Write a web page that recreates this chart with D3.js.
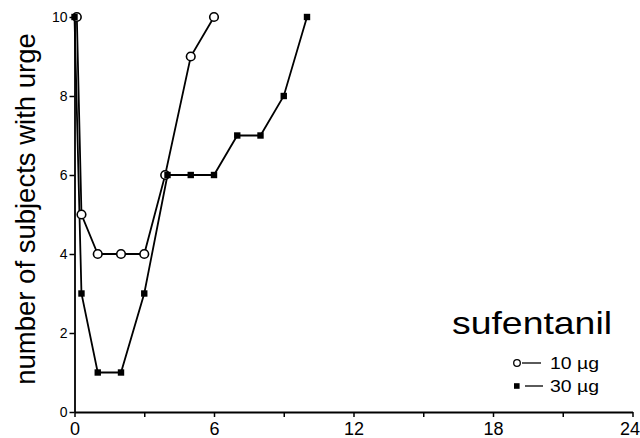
<!DOCTYPE html>
<html>
<head>
<meta charset="utf-8">
<script src="https://cdn.jsdelivr.net/npm/d3@7"></script>
<style>
  html, body { margin: 0; padding: 0; background: #fff; }
  svg { display: block; }
  text { font-family: "Liberation Sans", Arial, sans-serif; fill: #000; }
</style>
</head>
<body>
<svg id="chart" width="640" height="438"></svg>
<script>
// ---- data ----
const time10 = [0.1, 0.3, 1, 2, 3, 3.9, 5, 6];
const urge10 = [10, 5, 4, 4, 4, 6, 9, 10];
const time30 = [0, 0.3, 1, 2, 3, 4, 5, 6, 7, 8, 9, 10];
const urge30 = [10, 3, 1, 1, 3, 6, 6, 6, 7, 7, 8, 10];
const xMajorTicks = [0, 6, 12, 18, 24];
const xMinorTicks = [3, 9, 15, 21];
const yTicks = [0, 2, 4, 6, 8, 10];
const seriesNames = ["10 µg", "30 µg"];
const yLabel = "number of subjects with urge";
const legendTitle = "sufentanil";

const svg = d3.select("#chart");
const x = d3.scaleLinear().domain([0, 24]).range([74.5, 632.5]);
const y = d3.scaleLinear().domain([0, 10]).range([412, 17]);

// axes
const xAxis = svg.append("g").attr("transform", "translate(0,412)")
  .call(d3.axisBottom(x).tickValues(xMajorTicks.concat(xMinorTicks))
    .tickFormat(d => xMajorTicks.includes(d) ? d : "")
    .tickSize(5).tickSizeOuter(0).tickPadding(5));
xAxis.select(".domain").attr("stroke-width", 1.8);
xAxis.selectAll(".tick line").attr("stroke-width", 1.5);
xAxis.selectAll("text").attr("font-size", 18).attr("font-family", "Liberation Sans, Arial, sans-serif").attr("fill", "#000")
  .attr("dx", d => d === 24 ? -3 : 0);

const yAxis = svg.append("g").attr("transform", "translate(74.5,0)")
  .call(d3.axisLeft(y).tickValues(yTicks).tickSize(5).tickSizeOuter(0).tickPadding(2));
yAxis.select(".domain").attr("stroke-width", 1.8);
yAxis.selectAll(".tick line").attr("stroke-width", 1.5);
yAxis.selectAll("text").attr("font-size", 14).attr("font-family", "Liberation Sans, Arial, sans-serif").attr("fill", "#000");

// y label
svg.append("text")
  .attr("transform", "translate(35,209) rotate(-90)")
  .attr("text-anchor", "middle")
  .attr("font-size", 27.5)
  .text(yLabel);

const line = d3.line().x(d => x(d[0])).y(d => y(d[1]));
const d10 = time10.map((t, i) => [t, urge10[i]]);
const d30 = time30.map((t, i) => [t, urge30[i]]);

svg.append("path").datum(d30).attr("d", line)
  .attr("fill", "none").attr("stroke", "#000").attr("stroke-width", 1.8);
svg.append("path").datum(d10).attr("d", line)
  .attr("fill", "none").attr("stroke", "#000").attr("stroke-width", 1.8);

svg.append("g").selectAll("circle").data(d10).join("circle")
  .attr("cx", d => x(d[0])).attr("cy", d => y(d[1])).attr("r", 4.3)
  .attr("fill", "#fff").attr("stroke", "#000").attr("stroke-width", 1.6);

svg.append("g").selectAll("rect").data(d30).join("rect")
  .attr("x", d => x(d[0]) - 3.2).attr("y", d => y(d[1]) - 3.2)
  .attr("width", 6.4).attr("height", 6.4).attr("fill", "#000");

// legend
svg.append("text").attr("x", 612).attr("y", 334).attr("text-anchor", "end")
  .attr("font-size", 32).attr("textLength", 160).attr("lengthAdjust", "spacingAndGlyphs")
  .text(legendTitle);

const legY = [363, 386];
svg.append("circle").attr("cx", 517).attr("cy", legY[0]).attr("r", 3.3)
  .attr("fill", "#fff").attr("stroke", "#000").attr("stroke-width", 1.3);
svg.append("rect").attr("x", 514).attr("y", legY[1] - 2.8).attr("width", 5.6).attr("height", 5.6).attr("fill", "#000");
legY.forEach((ly, i) => {
  svg.append("line").attr("x1", i === 0 ? 522 : 525).attr("x2", i === 0 ? 541 : 543)
    .attr("y1", ly).attr("y2", ly).attr("stroke", "#000").attr("stroke-width", 1.3);
  svg.append("text").attr("x", 550).attr("y", ly + 6)
    .attr("font-size", 17).attr("textLength", 49).attr("lengthAdjust", "spacingAndGlyphs")
    .text(seriesNames[i]);
});
</script>
</body>
</html>
